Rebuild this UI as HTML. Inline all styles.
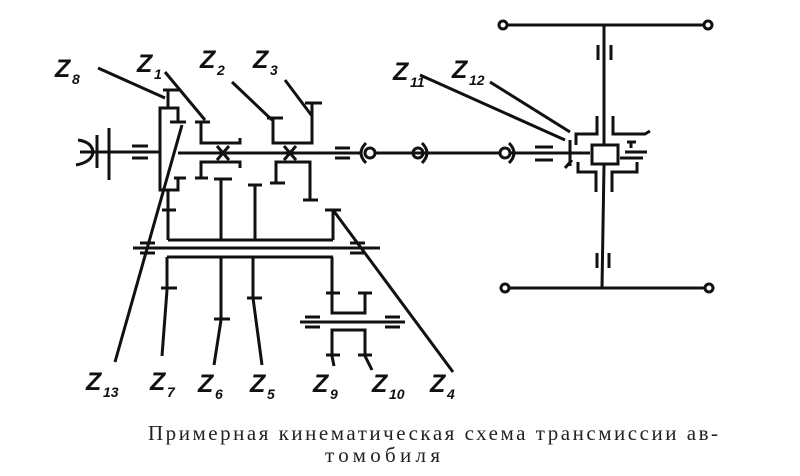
<!DOCTYPE html>
<html><head><meta charset="utf-8"><style>
html,body{margin:0;padding:0;background:#fff;}
svg{display:block;}
.z{font-family:"Liberation Sans",sans-serif;font-style:italic;font-weight:bold;font-size:25px;fill:#111;}
.s{font-family:"Liberation Sans",sans-serif;font-style:italic;font-weight:bold;font-size:14px;fill:#111;}
.c{font-family:"Liberation Serif","DejaVu Serif",serif;font-size:21px;fill:#222;}
</style></head><body>
<svg width="800" height="476" viewBox="0 0 800 476" xmlns="http://www.w3.org/2000/svg">
<g stroke="#111" stroke-width="3" fill="none" stroke-linecap="butt">
<path d="M78 140 Q92 142 93 152 Q92 162 76 165"/>
<line x1="80" y1="152" x2="160" y2="152"/>
<line x1="97" y1="135" x2="97" y2="168"/>
<line x1="109" y1="128" x2="109" y2="180"/>
<line x1="132" y1="146" x2="148" y2="146"/><line x1="132" y1="158" x2="148" y2="158"/>
<line x1="163" y1="90" x2="181" y2="90"/><line x1="168" y1="90" x2="168" y2="108"/>
<polyline points="178,122 178,108 160,108 160,190 178,190 178,178"/>
<line x1="170" y1="122" x2="186" y2="122"/><line x1="174" y1="178" x2="186" y2="178"/>
<line x1="168" y1="190" x2="168" y2="240"/><line x1="162" y1="210" x2="176" y2="210"/>
<line x1="178" y1="153" x2="360" y2="153"/>
<polyline points="201,122 201,143 240,143 240,138"/><line x1="195" y1="122" x2="210" y2="122"/>
<polyline points="201,178 201,162 240,162 240,168"/><line x1="195" y1="178" x2="208" y2="178"/>
<path d="M217 146 L229 160 M229 146 L217 160"/>
<polyline points="273,118 273,143 312,143 312,103"/><line x1="267" y1="118" x2="283" y2="118"/><line x1="305" y1="103" x2="322" y2="103"/>
<polyline points="276,183 276,162 310,162 310,200"/><line x1="270" y1="183" x2="285" y2="183"/><line x1="303" y1="200" x2="318" y2="200"/>
<path d="M284 146 L296 160 M296 146 L284 160"/>
<line x1="335" y1="148" x2="350" y2="148"/><line x1="335" y1="158" x2="350" y2="158"/>
<line x1="221" y1="179" x2="221" y2="240"/><line x1="214" y1="179" x2="232" y2="179"/>
<line x1="255" y1="185" x2="255" y2="240"/><line x1="248" y1="185" x2="262" y2="185"/>
<line x1="333" y1="210" x2="333" y2="240"/><line x1="325" y1="210" x2="341" y2="210"/>
<line x1="168" y1="240" x2="333" y2="240"/>
<line x1="133" y1="248" x2="380" y2="248"/>
<line x1="140" y1="243" x2="155" y2="243"/><line x1="140" y1="253" x2="155" y2="253"/>
<line x1="350" y1="243" x2="365" y2="243"/><line x1="350" y1="253" x2="365" y2="253"/>
<line x1="167" y1="257" x2="333" y2="257"/>
<line x1="167" y1="257" x2="167" y2="290"/><line x1="161" y1="288" x2="177" y2="288"/>
<line x1="221" y1="257" x2="221" y2="320"/><line x1="214" y1="319" x2="230" y2="319"/>
<line x1="253" y1="257" x2="253" y2="298"/><line x1="247" y1="298" x2="262" y2="298"/>
<polyline points="332,257 332,313 365,313 365,293"/><line x1="326" y1="293" x2="340" y2="293"/><line x1="358" y1="293" x2="372" y2="293"/>
<line x1="300" y1="322" x2="405" y2="322"/>
<line x1="305" y1="317" x2="320" y2="317"/><line x1="305" y1="327" x2="320" y2="327"/>
<line x1="385" y1="317" x2="400" y2="317"/><line x1="385" y1="327" x2="400" y2="327"/>
<polyline points="332,356 332,330 365,330 365,356"/><line x1="326" y1="355" x2="340" y2="355"/><line x1="358" y1="355" x2="372" y2="355"/>
<line x1="375" y1="153" x2="500" y2="153"/>
<line x1="510" y1="153" x2="590" y2="153"/>
<circle cx="370" cy="153" r="5"/><path d="M366 143 Q356 153 366 163"/>
<circle cx="418" cy="153" r="5"/><path d="M422 143 Q432 153 422 163"/>
<circle cx="505" cy="153" r="5"/><path d="M509 143 Q519 153 509 163"/>
<line x1="535" y1="147" x2="553" y2="147"/><line x1="535" y1="160" x2="553" y2="160"/>
<line x1="604" y1="25" x2="604" y2="145"/><line x1="604" y1="165" x2="602" y2="288"/>
<line x1="505" y1="25" x2="708" y2="25"/><line x1="505" y1="288" x2="710" y2="288"/>
<circle cx="503" cy="25" r="4" fill="#fff"/><circle cx="708" cy="25" r="4" fill="#fff"/>
<circle cx="505" cy="288" r="4" fill="#fff"/><circle cx="709" cy="288" r="4" fill="#fff"/>
<line x1="598" y1="45" x2="598" y2="60"/><line x1="611" y1="45" x2="611" y2="60"/>
<line x1="597" y1="253" x2="597" y2="268"/><line x1="609" y1="253" x2="609" y2="268"/>
<rect x="592" y="145" width="26" height="19" stroke-width="3"/>
<polyline points="597,116 597,134 576,134 576,145"/>
<polyline points="613,116 613,134 645,134 650,131"/>
<polyline points="596,192 596,172 578,172 578,162"/>
<polyline points="612,192 612,172 637,172 637,162"/>
<line x1="625" y1="152" x2="647" y2="152"/><line x1="620" y1="158" x2="643" y2="158"/>
<line x1="631" y1="142" x2="631" y2="148"/><line x1="627" y1="142" x2="636" y2="142"/>
<line x1="570" y1="140" x2="570" y2="166"/><line x1="565" y1="168" x2="572" y2="160"/>
<line x1="98" y1="68" x2="165" y2="98"/>
<line x1="165" y1="72" x2="205" y2="120"/>
<line x1="232" y1="82" x2="272" y2="120"/>
<line x1="285" y1="80" x2="312" y2="116"/>
<line x1="420" y1="75" x2="565" y2="140"/>
<line x1="490" y1="82" x2="570" y2="132"/>
<line x1="182" y1="125" x2="115" y2="362"/>
<line x1="167" y1="290" x2="162" y2="356"/>
<line x1="221" y1="320" x2="214" y2="365"/>
<line x1="253" y1="298" x2="262" y2="365"/>
<line x1="332" y1="356" x2="334" y2="366"/>
<line x1="365" y1="356" x2="372" y2="370"/>
<line x1="333" y1="210" x2="453" y2="372"/>
</g>
<text class="z" x="55" y="77">Z</text><text class="s" x="72" y="84">8</text>
<text class="z" x="137" y="72">Z</text><text class="s" x="154" y="79">1</text>
<text class="z" x="200" y="68">Z</text><text class="s" x="217" y="75">2</text>
<text class="z" x="253" y="68">Z</text><text class="s" x="270" y="75">3</text>
<text class="z" x="393" y="80">Z</text><text class="s" x="410" y="87">11</text>
<text class="z" x="452" y="78">Z</text><text class="s" x="469" y="85">12</text>
<text class="z" x="86" y="390">Z</text><text class="s" x="103" y="397">13</text>
<text class="z" x="150" y="390">Z</text><text class="s" x="167" y="397">7</text>
<text class="z" x="198" y="392">Z</text><text class="s" x="215" y="399">6</text>
<text class="z" x="250" y="392">Z</text><text class="s" x="267" y="399">5</text>
<text class="z" x="313" y="392">Z</text><text class="s" x="330" y="399">9</text>
<text class="z" x="372" y="392">Z</text><text class="s" x="389" y="399">10</text>
<text class="z" x="430" y="392">Z</text><text class="s" x="447" y="399">4</text>
<text class="c" x="148" y="440" textLength="570" lengthAdjust="spacing">Примерная кинематическая схема трансмиссии ав-</text>
<text class="c" x="325" y="462" textLength="115" lengthAdjust="spacing">томобиля</text>
</svg>
</body></html>
